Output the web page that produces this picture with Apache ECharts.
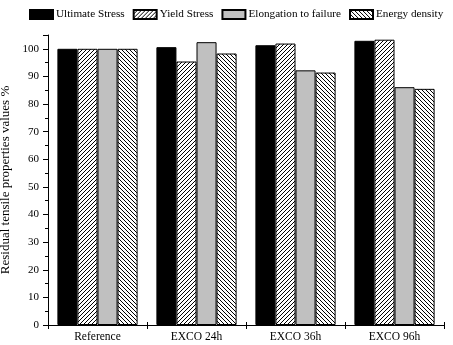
<!DOCTYPE html>
<html><head><meta charset="utf-8">
<script src="https://cdn.jsdelivr.net/npm/echarts@6/dist/echarts.min.js"></script>
<style>html,body{margin:0;padding:0;background:#fff}#c{width:453px;height:345px}</style>
</head><body><div id="c"></div>
<script>
const categories = ['Reference', 'EXCO 24h', 'EXCO 36h', 'EXCO 96h'];
const seriesNames = ['Ultimate Stress', 'Yield Stress', 'Elongation to failure', 'Energy density'];
const ultimateStress = [100, 100.6, 101.3, 102.9];
const yieldStress = [100, 95.4, 101.9, 103.3];
const elongation = [100, 102.4, 92.2, 86.1];
const energyDensity = [100, 98.3, 91.4, 85.5];

function hatch(dir) {
  const s = 4;
  const c = document.createElement('canvas');
  c.width = s; c.height = s;
  const g = c.getContext('2d');
  g.fillStyle = '#fff'; g.fillRect(0, 0, s, s);
  g.strokeStyle = '#000'; g.lineWidth = 1;
  g.beginPath();
  if (dir > 0) {
    g.moveTo(-1, s + 1); g.lineTo(s + 1, -1);
    g.moveTo(-1, 1); g.lineTo(1, -1);
    g.moveTo(s - 1, s + 1); g.lineTo(s + 1, s - 1);
  } else {
    g.moveTo(-1, -1); g.lineTo(s + 1, s + 1);
    g.moveTo(s - 1, -1); g.lineTo(s + 1, 1);
    g.moveTo(-1, s - 1); g.lineTo(1, s + 1);
  }
  g.stroke();
  return { image: c, repeat: 'repeat' };
}

const font = '"Liberation Serif", "Times New Roman", serif';
const fills = ['#000', hatch(1), '#c0c0c0', hatch(-1)];
const data = [ultimateStress, yieldStress, elongation, energyDensity];

const chart = echarts.init(document.getElementById('c'), null, { renderer: 'canvas' });
chart.setOption({
  animation: false,
  textStyle: { fontFamily: font, color: '#000' },
  legend: {
    top: 9, left: 29, padding: 0, itemWidth: 23, itemHeight: 9, itemGap: 8, icon: 'rect',
    textStyle: { fontFamily: font, fontSize: 11.2, color: '#000', padding: [0, 0, 0, -2] },
    data: seriesNames
  },
  grid: { left: 48, right: 9, top: 35, bottom: 20, containLabel: false, outerBoundsMode: 'none' },
  xAxis: [{
    type: 'category', data: categories,
    axisLine: { lineStyle: { color: '#000', width: 1 } },
    axisTick: { show: true, alignWithLabel: false, length: 4, lineStyle: { color: '#000' } },
    axisLabel: { fontFamily: font, fontSize: 11.5, color: '#000', margin: 6 }
  }, {
    type: 'category', data: categories, position: 'bottom',
    axisLine: { show: false },
    axisTick: { show: true, inside: true, alignWithLabel: false, length: 3, lineStyle: { color: '#000' } },
    axisLabel: { show: false }
  }],
  yAxis: {
    type: 'value', min: 0, max: 105, interval: 10,
    name: 'Residual tensile properties values %', nameLocation: 'middle', nameGap: 27,
    nameTextStyle: { fontFamily: font, fontSize: 13, color: '#000' },
    axisLine: { show: true, lineStyle: { color: '#000', width: 1 } },
    axisTick: { show: true, length: 5, lineStyle: { color: '#000' } },
    minorTick: { show: true, splitNumber: 2, length: 3, lineStyle: { color: '#000' } },
    splitLine: { show: false },
    axisLabel: { fontFamily: font, fontSize: 11, color: '#000', margin: 9,
      formatter: v => (v % 10 === 0 ? v : '') }
  },
  series: seriesNames.map((n, i) => ({
    name: n, type: 'bar', data: data[i], xAxisIndex: 0,
    barGap: '0%', barCategoryGap: '19%',
    itemStyle: { color: fills[i], borderColor: '#000', borderWidth: 1 }
  }))
});
</script></body></html>
